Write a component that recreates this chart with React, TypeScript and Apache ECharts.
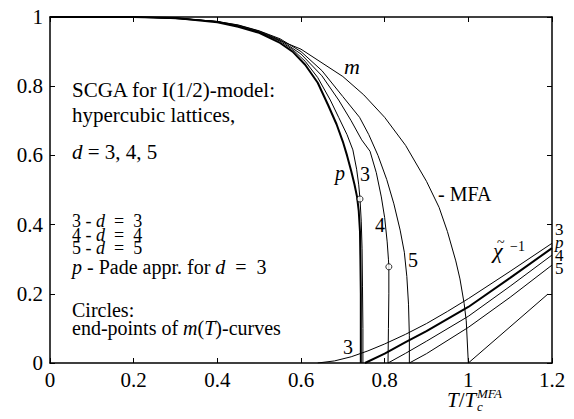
import React, { useEffect, useRef } from "react";
import * as echarts from "echarts";

const FONT = "Liberation Serif";

// Magnetization curves m(T)
const T_P = [0, 0.2, 0.3, 0.4, 0.45, 0.5, 0.55, 0.58, 0.61, 0.64, 0.665, 0.685, 0.7, 0.71, 0.72, 0.728, 0.734, 0.738, 0.741, 0.742, 0.743, 0.743, 0.743];
const M_P = [1, 1, 0.997, 0.985, 0.972, 0.954, 0.925, 0.9, 0.862, 0.81, 0.745, 0.69, 0.64, 0.6, 0.555, 0.515, 0.48, 0.44, 0.38, 0.3, 0.2, 0.1, 0];

const T_3 = [0, 0.2, 0.3, 0.4, 0.45, 0.5, 0.55, 0.58, 0.61, 0.64, 0.67, 0.69, 0.71, 0.724, 0.733, 0.738, 0.741, 0.744, 0.746, 0.747, 0.748, 0.748];
const M_3 = [1, 1, 0.997, 0.986, 0.974, 0.956, 0.93, 0.906, 0.872, 0.825, 0.76, 0.71, 0.66, 0.616, 0.56, 0.515, 0.474, 0.41, 0.33, 0.22, 0.1, 0];

const T_4 = [0, 0.2, 0.3, 0.4, 0.45, 0.5, 0.55, 0.6, 0.65, 0.69, 0.72, 0.745, 0.765, 0.78, 0.792, 0.8, 0.806, 0.809, 0.81, 0.81, 0.809, 0.808];
const M_4 = [1, 1, 0.997, 0.987, 0.976, 0.959, 0.934, 0.893, 0.83, 0.76, 0.7, 0.645, 0.612, 0.55, 0.48, 0.42, 0.35, 0.3, 0.278, 0.2, 0.1, 0];

const T_5 = [0, 0.2, 0.3, 0.4, 0.45, 0.5, 0.55, 0.6, 0.65, 0.7, 0.74, 0.762, 0.784, 0.805, 0.822, 0.837, 0.847, 0.853, 0.857, 0.859, 0.859];
const M_5 = [1, 1, 0.997, 0.987, 0.977, 0.96, 0.937, 0.9, 0.845, 0.77, 0.71, 0.66, 0.6, 0.53, 0.46, 0.384, 0.32, 0.25, 0.17, 0.08, 0];

const T_MFA = [0, 0.2, 0.3, 0.4, 0.5, 0.6, 0.7, 0.75, 0.8, 0.85, 0.9, 0.93, 0.95, 0.97, 0.98, 0.99, 0.995, 1.0];
const M_MFA = [1, 1, 0.995, 0.987, 0.957, 0.907, 0.828, 0.775, 0.71, 0.629, 0.525, 0.45, 0.38, 0.295, 0.243, 0.172, 0.122, 0];

// Inverse susceptibility curves
const T_CHI3 = [0.64, 0.68, 0.72, 0.76, 0.8, 0.85, 0.9, 0.95, 1.0, 1.1, 1.2];
const V_CHI3 = [0, 0.006, 0.018, 0.035, 0.055, 0.083, 0.114, 0.149, 0.186, 0.265, 0.346];
const T_CHIP = [0.753, 0.8, 0.85, 0.9, 1.0, 1.1, 1.2];
const V_CHIP = [0, 0.027, 0.06, 0.092, 0.162, 0.246, 0.332];
const T_CHI4 = [0.808, 0.85, 0.9, 1.0, 1.1, 1.2];
const V_CHI4 = [0, 0.028, 0.063, 0.135, 0.222, 0.312];
const T_CHI5 = [0.859, 0.9, 1.0, 1.1, 1.2];
const V_CHI5 = [0, 0.027, 0.103, 0.19, 0.283];
const T_CHIMFA = [1.0, 1.19];
const V_CHIMFA = [0, 0.199];

// End points of m(T) curves
const T_END = [0.741, 0.81];
const M_END = [0.474, 0.278];

const zip = (xs: number[], ys: number[]) => xs.map((x, i) => [x, ys[i]]);

const line = (name: string, data: number[][], width = 1) => ({
  name,
  type: "line",
  data: data,
  showSymbol: false,
  symbol: "none",
  lineStyle: { color: "#000", width },
  xAxisIndex: 0,
  yAxisIndex: 0,
  silent: true,
  z: 3,
});

const txt = (x: number, y: number, text: string, fontSize = 20, lineHeight?: number) => ({
  type: "text",
  x,
  y,
  z: 10,
  style: {
    text,
    fill: "#000",
    fontFamily: FONT,
    fontSize,
    align: "left",
    verticalAlign: "middle",
    ...(lineHeight ? { lineHeight } : {}),
    rich: {
      i: { fontStyle: "italic", fontFamily: FONT, fontSize, fill: "#000", ...(lineHeight ? { lineHeight } : {}) },
      n: { fontFamily: FONT, fontSize, fill: "#000", ...(lineHeight ? { lineHeight } : {}) },
    },
  },
});

const fmt = (v: number) => String(+v.toFixed(1));

const axisCommon = {
  type: "value",
  splitLine: { show: false },
  axisLine: { show: true, onZero: false, lineStyle: { color: "#000", width: 1.5 } },
  axisTick: { show: true, inside: true, length: 5, lineStyle: { color: "#000", width: 1 } },
};

export default function App() {
  const ref = useRef<HTMLDivElement>(null);
  useEffect(() => {
    const chart = echarts.init(ref.current!, null, { renderer: "svg" });
    const option: any = {
      animation: false,
      backgroundColor: "#fff",
      textStyle: { fontFamily: FONT },
      grid: { left: 50, right: 22, top: 17, bottom: 56, containLabel: false },
      xAxis: [
        {
          ...axisCommon,
          position: "bottom",
          min: 0,
          max: 1.2,
          interval: 0.2,
          axisLabel: { color: "#000", fontFamily: FONT, fontSize: 21, margin: 6, formatter: fmt },
        },
        {
          ...axisCommon,
          position: "top",
          min: 0,
          max: 1.2,
          interval: 0.2,
          axisLabel: { show: false },
        },
      ],
      yAxis: [
        {
          ...axisCommon,
          position: "left",
          min: 0,
          max: 1,
          interval: 0.2,
          axisLabel: { color: "#000", fontFamily: FONT, fontSize: 21, margin: 7, formatter: fmt },
        },
        {
          ...axisCommon,
          position: "right",
          min: 0,
          max: 1,
          interval: 0.2,
          axisLabel: { show: false },
        },
      ],
      series: [
        line("m p", zip(T_P, M_P), 2),
        line("m 3", zip(T_3, M_3), 1),
        line("m 4", zip(T_4, M_4), 1),
        line("m 5", zip(T_5, M_5), 1),
        line("m MFA", zip(T_MFA, M_MFA), 1),
        line("chi 3", zip(T_CHI3, V_CHI3), 1),
        line("chi p", zip(T_CHIP, V_CHIP), 2),
        line("chi 4", zip(T_CHI4, V_CHI4), 1),
        line("chi 5", zip(T_CHI5, V_CHI5), 1),
        line("chi MFA", zip(T_CHIMFA, V_CHIMFA), 1),
        {
          name: "end points",
          type: "scatter",
          data: zip(T_END, M_END),
          symbol: "circle",
          symbolSize: 6,
          itemStyle: { color: "#fff", borderColor: "#000", borderWidth: 1 },
          z: 5,
          silent: true,
        },
      ],
      graphic: [
        txt(72, 89.5, "SCGA for I(1/2)-model:", 21),
        txt(72, 115, "hypercubic lattices,", 21),
        txt(72, 151.5, "{i|d} = 3, 4, 5", 21),
        txt(72, 234.5, "{n|3 - }{i|d}{n|  =  3}\n{n|4 - }{i|d}{n|  =  4}\n{n|5 - }{i|d}{n|  =  5}", 18, 13.3),
        txt(72, 267, "{i|p} - Pade appr. for {i|d}  =  3", 20, 14),
        txt(72, 319, "{n|Circles:}\n{n|end-points of }{i|m}{n|(}{i|T}{n|)-curves}", 20, 17.5),
        txt(344, 66, "{i|m}", 22),
        txt(335, 173, "{i|p}", 20),
        txt(360, 174, "3", 20),
        txt(438, 193.5, "- MFA", 20),
        txt(375, 225, "4", 20),
        txt(408, 260, "5", 20),
        txt(343, 347, "3", 20),
        txt(493, 250, "{i|χ}", 22, 14),
        txt(497, 242, "~", 14, 6),
        txt(510, 246, "−1", 14, 10),
        txt(555, 249, "{n|3}\n{i|p}\n{n|4}\n{n|5}", 17, 13.3),
        txt(447, 400, "{i|T}/{i|T}", 21),
        txt(477, 393, "{i|MFA}", 13),
        txt(477, 406, "{i|c}", 13),
      ],
    };
    chart.setOption(option);
    return () => chart.dispose();
  }, []);
  return <div ref={ref} style={{ position: "fixed", left: 0, top: 0, width: 574, height: 419 }} />;
}
